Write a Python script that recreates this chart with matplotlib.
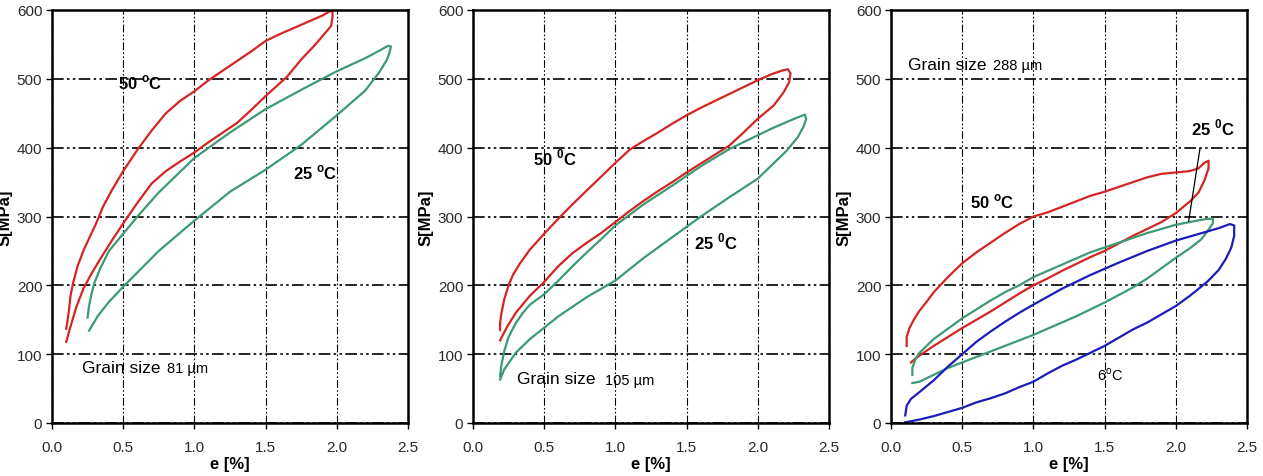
import matplotlib
matplotlib.use("Agg")
import matplotlib.pyplot as plt
from matplotlib import font_manager

# pick a narrow sans if there is one, else plain Liberation Sans
names = {f.name for f in font_manager.fontManager.ttflist}
NARROW = "Liberation Sans Narrow" if "Liberation Sans Narrow" in names else "Liberation Sans"
plt.rcParams['font.family'] = [NARROW, 'DejaVu Sans']
plt.rcParams['mathtext.fontset'] = 'custom'
plt.rcParams['mathtext.rm'] = NARROW
plt.rcParams['mathtext.bf'] = NARROW + ':bold'

# ---- data: strain e [%], stress S [MPa] ----
# grain size 81 um
g81_50_e = [0.10, 0.11, 0.12, 0.13, 0.15, 0.18, 0.22, 0.26, 0.31, 0.36, 0.42, 0.50, 0.60, 0.70, 0.80, 0.90,
            1.00, 1.10, 1.20, 1.30, 1.40, 1.50, 1.60, 1.70, 1.80, 1.90, 1.95, 1.97,
            1.97, 1.96, 1.92, 1.85, 1.75, 1.65, 1.50, 1.40, 1.30, 1.20, 1.10, 1.00, 0.90, 0.80,
            0.70, 0.60, 0.50, 0.42, 0.35, 0.28, 0.22, 0.17, 0.13, 0.10]
g81_50_s = [137, 150, 165, 185, 205, 228, 250, 268, 290, 315, 338, 366, 397, 425, 450, 468,
            482, 498, 512, 526, 540, 555, 565, 574, 583, 592, 598, 599,
            590, 577, 567, 550, 528, 503, 475, 455, 436, 422, 408, 393, 380, 366,
            348, 320, 290, 265, 242, 218, 195, 168, 140, 118]
g81_25_e = [0.25, 0.26, 0.28, 0.30, 0.34, 0.40, 0.50, 0.60, 0.75, 0.90, 1.00, 1.25, 1.50, 1.75, 2.00,
            2.20, 2.30, 2.36, 2.38, 2.37, 2.35, 2.30, 2.20, 2.10, 2.00, 1.75, 1.50, 1.25,
            1.00, 0.75, 0.50, 0.40, 0.32, 0.26]
g81_25_s = [153, 170, 190, 205, 225, 250, 275, 300, 335, 365, 385, 422, 456, 484, 511,
            530, 541, 548, 547, 538, 527, 510, 483, 465, 447, 404, 368, 336,
            294, 250, 198, 176, 155, 134]

# grain size 105 um
g105_50_e = [0.19, 0.19, 0.20, 0.22, 0.25, 0.28, 0.33, 0.40, 0.50, 0.60, 0.70, 0.80, 0.90, 1.00, 1.10,
             1.20, 1.30, 1.40, 1.50, 1.60, 1.70, 1.80, 1.90, 2.00, 2.10, 2.17, 2.21, 2.23,
             2.22, 2.18, 2.11, 2.00, 1.90, 1.80, 1.70, 1.60, 1.50, 1.40, 1.30, 1.20, 1.10,
             1.00, 0.90, 0.80, 0.70, 0.60, 0.50, 0.40, 0.30, 0.24, 0.19]
g105_50_s = [135, 145, 160, 180, 200, 215, 232, 252, 275, 297, 318, 338, 358, 378, 397,
             410, 422, 435, 447, 458, 468, 478, 488, 498, 507, 512, 514, 508,
             495, 480, 461, 442, 422, 403, 390, 377, 364, 350, 337, 323, 308,
             292, 276, 262, 247, 228, 205, 185, 160, 140, 120]
g105_25_e = [0.19, 0.20, 0.22, 0.25, 0.30, 0.35, 0.40, 0.50, 0.60, 0.70, 0.80, 0.90, 1.00, 1.20, 1.40,
             1.60, 1.80, 2.00, 2.10, 2.20, 2.28, 2.33, 2.34, 2.32, 2.28, 2.20, 2.10, 2.00,
             1.80, 1.60, 1.40, 1.20, 1.00, 0.80, 0.60, 0.40, 0.30, 0.22, 0.19]
g105_25_s = [68, 85, 105, 125, 145, 160, 172, 187, 207, 228, 248, 267, 287, 318, 345,
             373, 398, 418, 428, 437, 444, 448, 442, 430, 415, 395, 375, 355,
             328, 300, 270, 240, 207, 183, 155, 122, 102, 78, 63]

# grain size 288 um
g288_50_e = [0.11, 0.11, 0.13, 0.16, 0.20, 0.25, 0.30, 0.40, 0.50, 0.60, 0.70, 0.80, 0.90, 1.00, 1.10,
             1.20, 1.30, 1.40, 1.50, 1.60, 1.70, 1.80, 1.90, 2.00, 2.10, 2.16, 2.20, 2.23,
             2.23, 2.20, 2.16, 2.10, 2.00, 1.90, 1.80, 1.70, 1.60, 1.50, 1.40, 1.30, 1.20,
             1.10, 1.00, 0.90, 0.80, 0.70, 0.60, 0.50, 0.40, 0.30, 0.20, 0.14]
g288_50_s = [112, 125, 138, 150, 163, 176, 190, 212, 232, 248, 262, 276, 289, 300, 306,
             314, 322, 330, 336, 343, 350, 357, 362, 364, 366, 370, 378, 381,
             370, 352, 335, 322, 305, 292, 282, 272, 261, 250, 241, 231, 221,
             210, 200, 188, 175, 162, 150, 138, 125, 112, 98, 88]
g288_25_e = [0.15, 0.15, 0.17, 0.20, 0.25, 0.30, 0.40, 0.50, 0.60, 0.70, 0.80, 0.90, 1.00, 1.20, 1.40,
             1.60, 1.80, 2.00, 2.10, 2.20, 2.26, 2.26, 2.22, 2.18, 2.10, 2.00, 1.90, 1.80,
             1.70, 1.60, 1.50, 1.40, 1.30, 1.20, 1.10, 1.00, 0.80, 0.60, 0.50, 0.40, 0.30,
             0.20, 0.15]
g288_25_s = [70, 80, 92, 102, 112, 122, 137, 152, 165, 178, 190, 200, 212, 230, 248,
             262, 276, 288, 292, 296, 297, 290, 278, 267, 254, 240, 225, 210,
             197, 186, 175, 165, 155, 146, 137, 128, 112, 96, 88, 80, 70,
             60, 58]
g288_6_e = [0.10, 0.11, 0.14, 0.20, 0.30, 0.40, 0.50, 0.60, 0.70, 0.80, 0.90, 1.00, 1.20, 1.40, 1.60,
            1.80, 2.00, 2.20, 2.30, 2.38, 2.41, 2.41, 2.39, 2.35, 2.30, 2.22, 2.10, 2.00,
            1.90, 1.80, 1.70, 1.60, 1.50, 1.40, 1.30, 1.20, 1.10, 1.00, 0.90, 0.80, 0.70,
            0.60, 0.50, 0.40, 0.30, 0.20, 0.10]
g288_6_s = [11, 25, 35, 45, 62, 82, 100, 118, 133, 147, 160, 172, 195, 215, 233,
            250, 265, 277, 283, 289, 287, 272, 255, 238, 222, 205, 185, 170,
            158, 146, 136, 124, 112, 102, 92, 83, 72, 60, 52, 43, 36,
            30, 22, 16, 10, 5, 1]

RED = "#d42424"
GREEN = "#3c9a74"
BLUE = "#1c1cb8"

fig = plt.figure(figsize=(12.63, 4.77), dpi=100)
lefts = [52 / 1263, 473 / 1263, 891 / 1263]
axes = [fig.add_axes([l, 53 / 477, 356 / 1263, 413 / 477]) for l in lefts]


def style(ax):
    ax.set_xlim(0, 2.5)
    ax.set_ylim(0, 600)
    ax.set_xticks([0, 0.5, 1.0, 1.5, 2.0, 2.5])
    ax.set_xticklabels(["0.0", "0.5", "1.0", "1.5", "2.0", "2.5"])
    ax.set_yticks(range(0, 601, 100))
    ax.set_axisbelow(True)
    ax.xaxis.grid(True, color="black", lw=0.8, ls=(0, (7, 2, 1.5, 2, 1.5, 2)))
    ax.yaxis.grid(True, color="black", lw=1.2, ls=(0, (7, 2, 1.5, 2, 1.5, 2)))
    for sp in ax.spines.values():
        sp.set_linewidth(1.8)
    ax.tick_params(direction="out", length=4, width=1, labelsize=11, labelcolor="#2a2a2a")
    ax.tick_params(axis="x", pad=8)
    ax.tick_params(axis="y", pad=3)
    ax.set_ylabel("S[MPa]", family=["Liberation Sans", "DejaVu Sans"], fontweight="bold", fontsize=12)
    ax.yaxis.set_label_coords(-0.11, 0.5)
    ax.set_xlabel("e [%]", fontweight="bold", fontsize=12)
    ax.xaxis.set_label_coords(0.5, -0.08)


for ax in axes:
    style(ax)

lw = 1.6
ax1, ax2, ax3 = axes
BIG = 12
GS = 12.5
SMALL = 10.5

ax1.plot(g81_50_e, g81_50_s, color=RED, lw=lw)
ax1.plot(g81_25_e, g81_25_s, color=GREEN, lw=lw)
ax1.text(0.46, 495, r"50 $^{\mathbf{o}}$C", fontsize=BIG, fontweight="bold", va="center")
ax1.text(1.69, 365, r"25 $^{\mathbf{o}}$C", fontsize=BIG, fontweight="bold", va="center")
ax1.text(0.21, 81, "Grain size", fontsize=GS, va="center")
ax1.text(0.81, 80, "81 µm", fontsize=SMALL, va="center")

ax2.plot(g105_50_e, g105_50_s, color=RED, lw=lw)
ax2.plot(g105_25_e, g105_25_s, color=GREEN, lw=lw)
ax2.text(0.42, 386, r"50 $^{\mathbf{0}}$C", fontsize=BIG, fontweight="bold", va="center")
ax2.text(1.55, 264, r"25 $^{\mathbf{0}}$C", fontsize=BIG, fontweight="bold", va="center")
ax2.text(0.31, 64, "Grain size", fontsize=GS, va="center")
ax2.text(0.93, 63, "105 µm", fontsize=SMALL, va="center")

ax3.plot(g288_50_e, g288_50_s, color=RED, lw=lw)
ax3.plot(g288_25_e, g288_25_s, color=GREEN, lw=lw)
ax3.plot(g288_6_e, g288_6_s, color=BLUE, lw=lw)
ax3.plot([2.09, 2.17], [293, 399], color="black", lw=0.9)
ax3.text(0.555, 322, r"50 $^{\mathbf{o}}$C", fontsize=BIG, fontweight="bold", va="center")
ax3.text(2.11, 430, r"25 $^{\mathbf{0}}$C", fontsize=BIG, fontweight="bold", va="center")
ax3.text(1.45, 71, r"6$^{\mathrm{o}}$C", fontsize=SMALL, va="center")
ax3.text(0.12, 521, "Grain size", fontsize=GS, va="center")
ax3.text(0.716, 520, "288 µm", fontsize=SMALL, va="center")

fig.savefig("out.png", dpi=100)
